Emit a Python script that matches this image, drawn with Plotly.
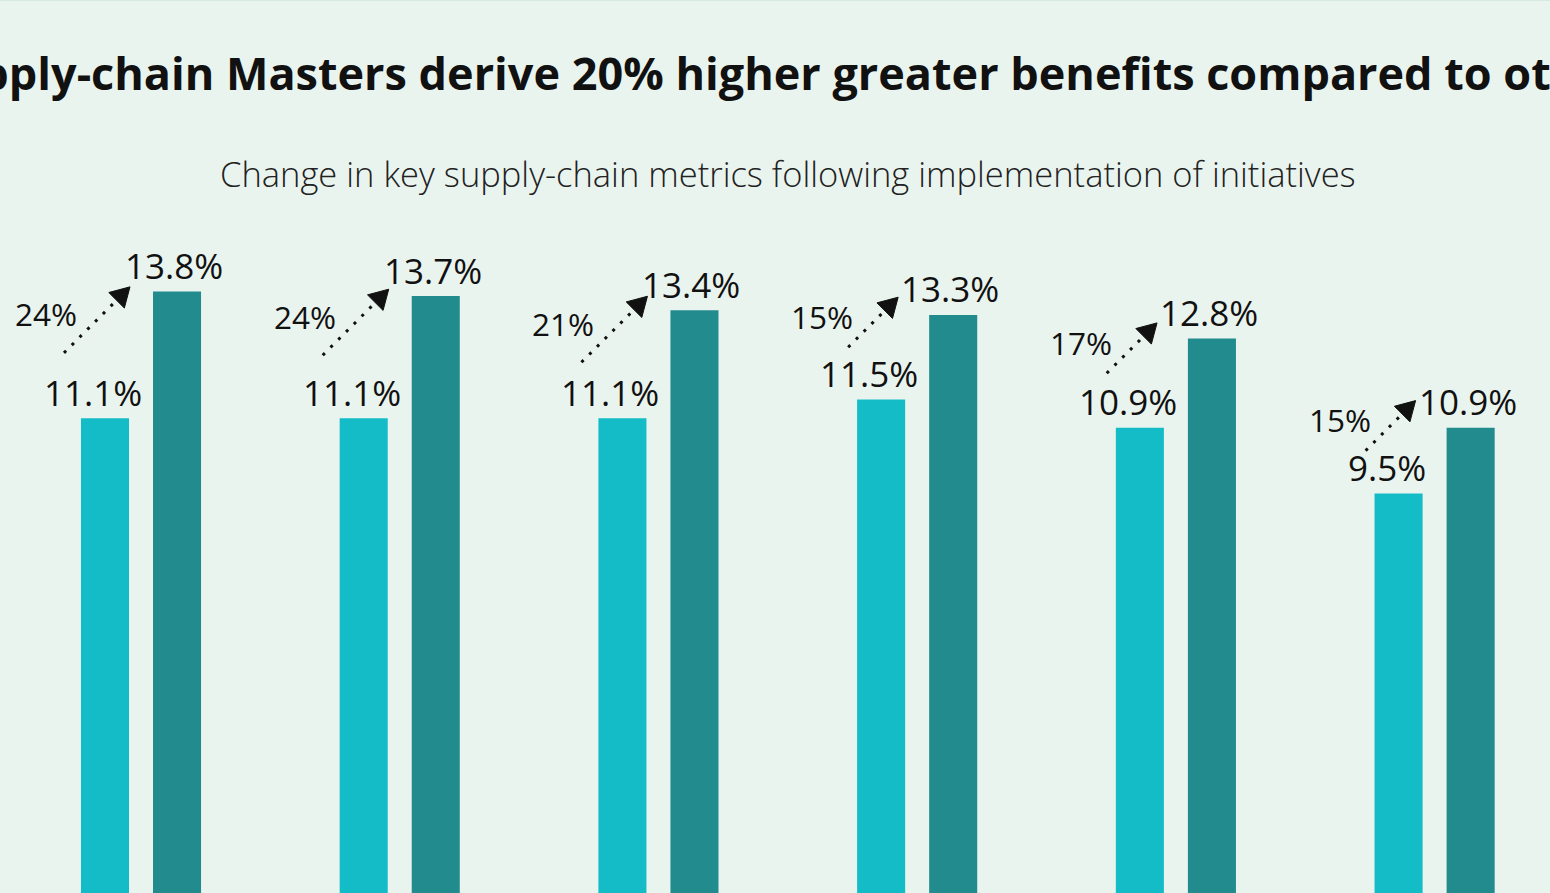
import plotly.graph_objects as go
import math

# ---------------- data ----------------
categories = ["Metric 1", "Metric 2", "Metric 3", "Metric 4", "Metric 5", "Metric 6"]
others_values = [11.1, 11.1, 11.1, 11.5, 10.9, 9.5]
masters_values = [13.8, 13.7, 13.4, 13.3, 12.8, 10.9]
uplift_labels = ["24%", "24%", "21%", "15%", "17%", "15%"]

title_text = "Supply-chain Masters derive 20% higher greater benefits compared to others"
subtitle_text = "Change in key supply-chain metrics following implementation of initiatives"

# ---------------- style ----------------
W, H = 1550, 893
X_RANGE = [-0.545, 5.446]
Y_RANGE = [1.0, 20.0]
BG = "#EAF4EF"
LIGHT = "#14BCC7"
DARK = "#218B8E"
INK = "#111111"
FONT = "Open Sans"

xs = list(range(len(categories)))


def px_x(v):
    return (v - X_RANGE[0]) / (X_RANGE[1] - X_RANGE[0]) * W


def px_y(v):
    return H - (v - Y_RANGE[0]) / (Y_RANGE[1] - Y_RANGE[0]) * H


def dx(p):
    return X_RANGE[0] + p / W * (X_RANGE[1] - X_RANGE[0])


def dy(p):
    return Y_RANGE[0] + (H - p) / H * (Y_RANGE[1] - Y_RANGE[0])


fig = go.Figure()
fig.add_trace(go.Bar(x=xs, y=others_values, name="Others", marker=dict(color=LIGHT, line=dict(width=0)),
                     hoverinfo="skip"))
fig.add_trace(go.Bar(x=xs, y=masters_values, name="Masters", marker=dict(color=DARK, line=dict(width=0)),
                     hoverinfo="skip"))

annotations = []
shapes = []
SLOT = 36  # px offset of each bar centre from group centre
LABEL_DY = 26

for i, x in enumerate(xs):
    gx = px_x(x)
    l_top = px_y(others_values[i])
    d_top = px_y(masters_values[i])
    l_cx = gx - SLOT - 12
    l_cy = l_top - LABEL_DY
    d_cx = gx + SLOT - 3
    d_cy = d_top - LABEL_DY

    annotations.append(dict(x=dx(l_cx), y=dy(l_cy), xref="x", yref="y", text=f"{others_values[i]}%",
                            showarrow=False, xanchor="center", yanchor="middle",
                            font=dict(family=FONT, size=35, color=INK)))
    annotations.append(dict(x=dx(d_cx), y=dy(d_cy), xref="x", yref="y", text=f"{masters_values[i]}%",
                            showarrow=False, xanchor="center", yanchor="middle",
                            font=dict(family=FONT, size=35, color=INK)))

    # 45-degree dotted arrow between the two labels
    half = min(66, max(50, (l_top - d_top) - 39)) / 2
    cx, cy = gx - 44, (l_top + d_top) / 2 - 35
    sx, sy = cx - half, cy + half
    tx, ty = cx + half, cy - half
    L = math.hypot(tx - sx, ty - sy)
    ux, uy = (tx - sx) / L, (ty - sy) / L
    bx, by = tx - 19 * ux, ty - 19 * uy
    nx, ny = -uy, ux
    fig.add_trace(go.Scatter(x=[dx(sx), dx(bx)], y=[dy(sy), dy(by)], mode="lines",
                             line=dict(color=INK, width=3, dash="3px,8px"), hoverinfo="skip",
                             showlegend=False))
    fig.add_trace(go.Scatter(x=[dx(tx), dx(bx + 11 * nx), dx(bx - 11 * nx), dx(tx)],
                             y=[dy(ty), dy(by + 11 * ny), dy(by - 11 * ny), dy(ty)],
                             mode="lines", fill="toself", fillcolor=INK, line=dict(color=INK, width=1),
                             hoverinfo="skip", showlegend=False))

    annotations.append(dict(x=dx(cx - 18), y=dy(cy - 6), xref="x", yref="y", text=uplift_labels[i],
                            showarrow=False, xanchor="right", yanchor="middle",
                            font=dict(family=FONT, size=31.5, color=INK)))

annotations.append(dict(x=787.5 / W, y=1 - 72 / H, xref="paper", yref="paper", text=f"<b>{title_text}</b>",
                        showarrow=False, xanchor="center", yanchor="middle",
                        font=dict(family=FONT, size=45, color=INK)))
annotations.append(dict(x=787.5 / W, y=1 - 174 / H, xref="paper", yref="paper", text=subtitle_text,
                        showarrow=False, xanchor="center", yanchor="middle",
                        font=dict(family=FONT, size=34.5, color="#222222", weight=300)))

shapes.append(dict(type="line", xref="paper", yref="paper", x0=0, x1=1, y0=1, y1=1,
                   line=dict(color="#D5EBE2", width=2)))

fig.update_layout(
    width=W, height=H,
    margin=dict(l=0, r=0, t=0, b=0, pad=0),
    paper_bgcolor=BG, plot_bgcolor=BG,
    barmode="group", bargap=0.443, bargroupgap=0.333,
    showlegend=False,
    xaxis=dict(range=X_RANGE, showgrid=False, zeroline=False, showticklabels=False, ticks="",
               tickvals=xs, ticktext=categories),
    yaxis=dict(range=Y_RANGE, showgrid=False, zeroline=False, showticklabels=False, ticks=""),
    annotations=annotations,
    shapes=shapes,
)

fig.write_html("out.html", config={"displayModeBar": False},
               post_script="document.body.style.margin='0';document.body.style.overflow='hidden';"
                           "document.body.style.background='" + BG + "';")
